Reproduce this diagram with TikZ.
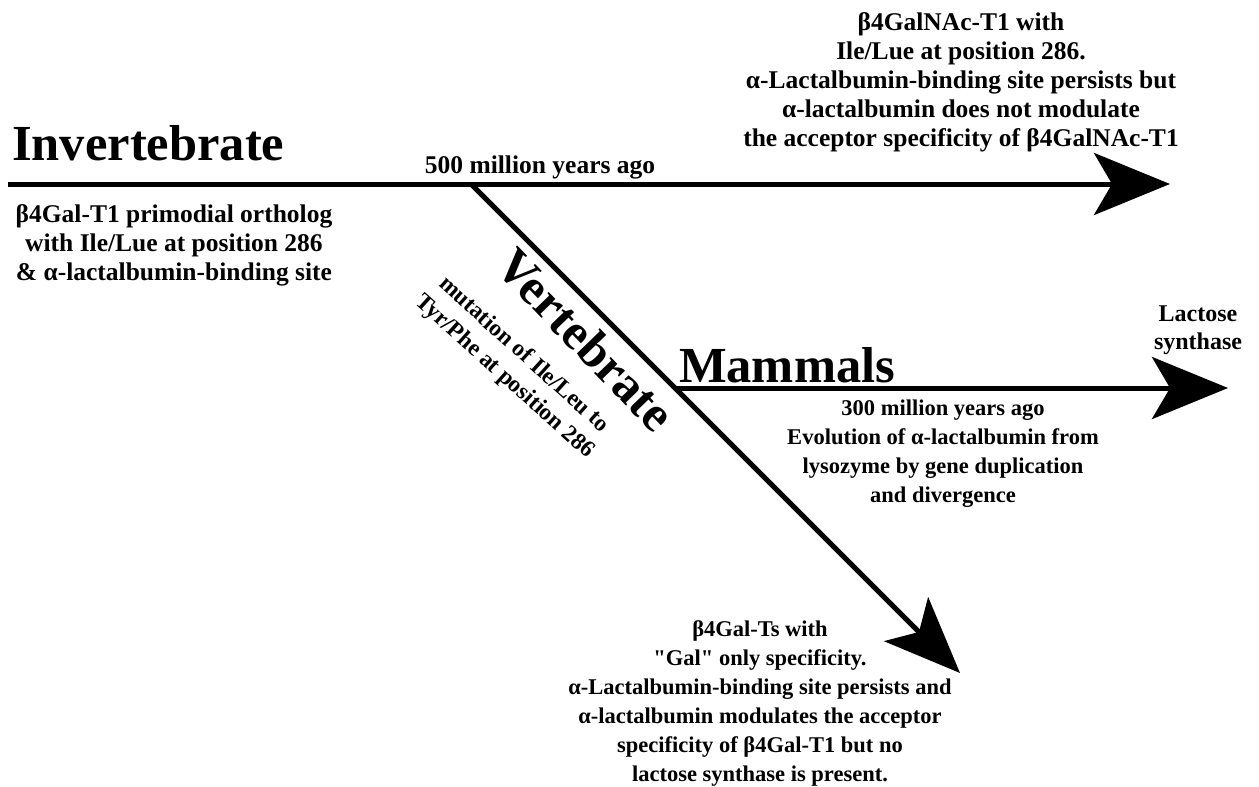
\documentclass[tikz,border=0pt]{standalone}
\usepackage{fontspec}
\setmainfont{Liberation Serif}[Ligatures=TeXOff]
\usetikzlibrary{arrows.meta, positioning}

\tikzset{
  branch/.style={line width=5pt, -{Stealth[length=76pt 0, width=62pt 0, inset=18pt 0]}},
  title/.style={inner sep=0pt, font=\fontsize{50.5}{60}\selectfont\bfseries},
  note/.style={inner sep=0pt, align=center, font=\fontsize{25.5}{29}\selectfont\bfseries},
  small/.style={inner sep=0pt, align=center, font=\fontsize{22.5}{29}\selectfont\bfseries}
}

\begin{document}
\begin{tikzpicture}[x=1pt, y=-1pt]
        \useasboundingbox (0,0) rectangle (1259,787);

        \coordinate (start)  at (8,184);
        \coordinate (fork)   at (471,184);
        \coordinate (inv)    at (1170,184);
        \coordinate (split)  at (675,388);
        \coordinate (mam)    at (1228,388);
        \coordinate (vert)   at (960,673);

        \draw[branch] (start) -- (inv);
        \draw[branch] (fork) -- (vert);
        \draw[branch] (split) -- (mam);

        \node[title, anchor=base west] (invlabel) at (12,160) {Invertebrate};
        \node[note] (invnote) at (174,245)
            {β4Gal-T1 primodial ortholog\\ with Ile/Lue at position 286\\ \& α-lactalbumin-binding site};
        \node[note] (age500) at (540,167) {500 million years ago};
        \node[note] (galnac) at (961,82)
            {β4GalNAc-T1 with\\ Ile/Lue at position 286.\\ α-Lactalbumin-binding site persists but\\
             α-lactalbumin does not modulate\\ the acceptor specificity of β4GalNAc-T1};

        \node[title, rotate=-46] (vertlabel) at (586,340) {Vertebrate};
        \node[note, font=\fontsize{23.5}{29}\selectfont\bfseries, rotate=-42] (mutation) at (514,366)
            {mutation of Ile/Leu to\\ Tyr/Phe at position 286};

        \node[title] (mamlabel) at (787,365) {Mammals};
        \node[note, font=\fontsize{24}{28}\selectfont\bfseries] (lactose) at (1198,330) {Lactose\\ synthase};
        \node[small] (age300) at (943,454)
            {300 million years ago\\ Evolution of α-lactalbumin from\\ lysozyme by gene duplication\\ and divergence};

        \node[small] (galts) at (760,703)
            {β4Gal-Ts with\\ "Gal" only specificity.\\ α-Lactalbumin-binding site persists and\\
             α-lactalbumin modulates the acceptor\\ specificity of β4Gal-T1 but no\\ lactose synthase is present.};

    \end{tikzpicture}
\end{document}
